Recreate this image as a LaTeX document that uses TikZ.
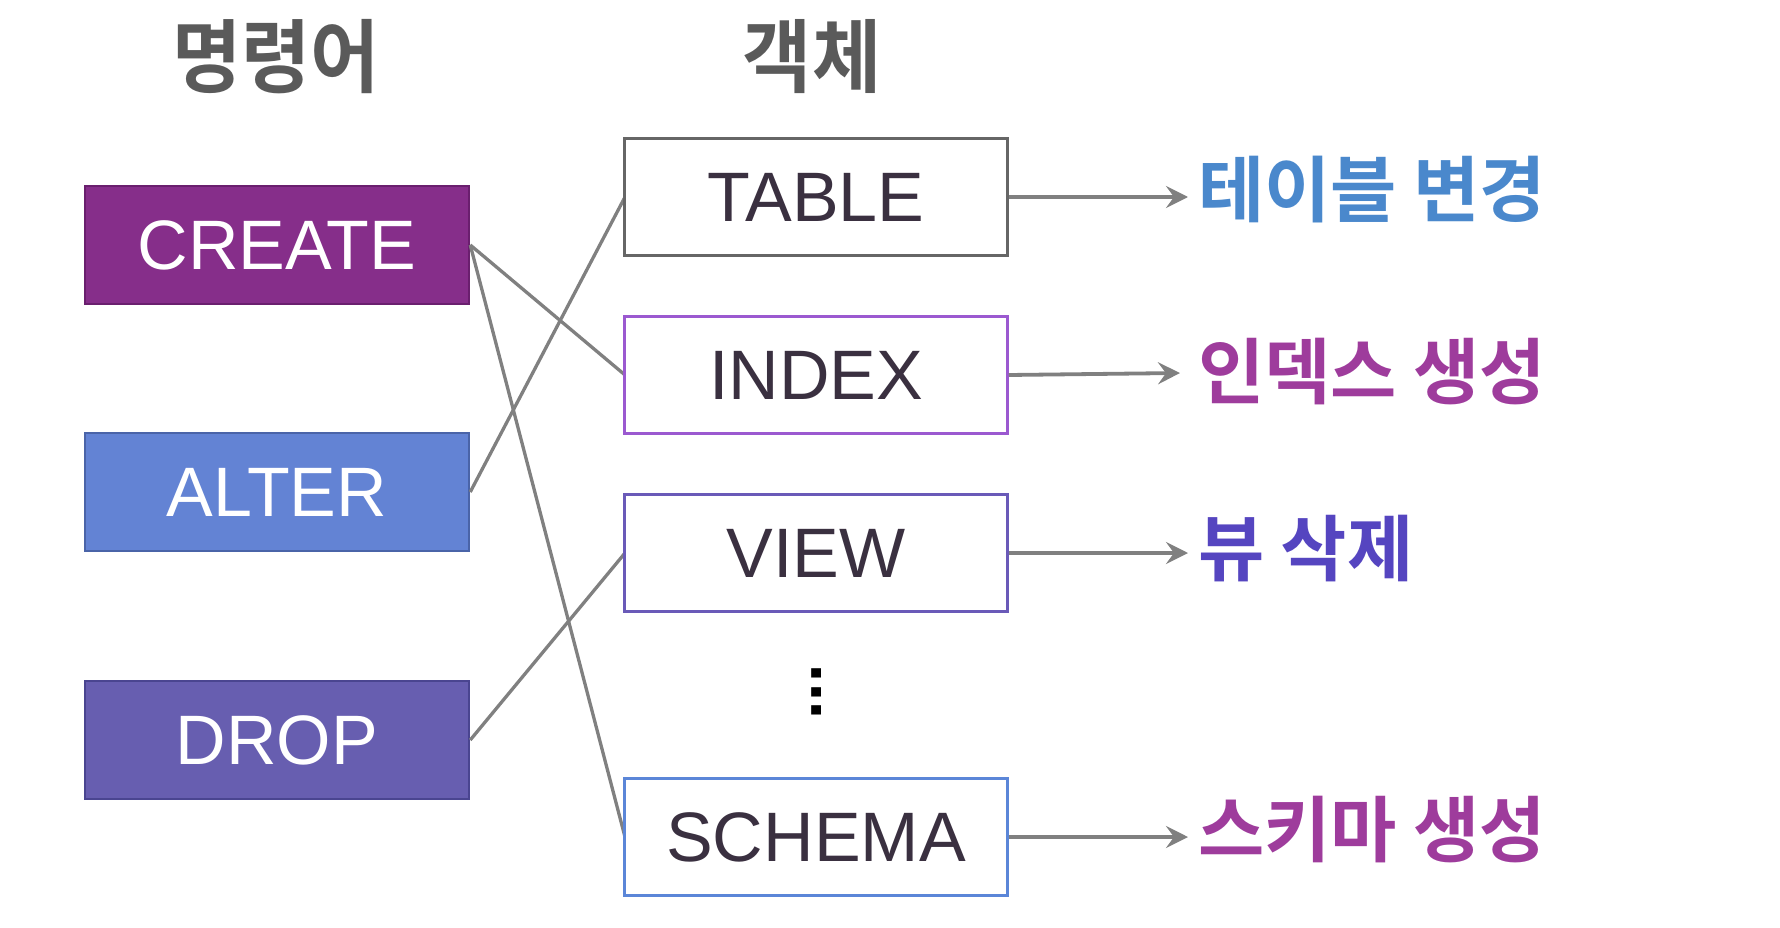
\documentclass[tikz,border=0pt]{standalone}
\usepackage{fontspec}
\setmainfont{Liberation Sans}
\newfontfamily\kr{Noto Sans CJK KR}[BoldFont={* Bold}]
\usetikzlibrary{arrows.meta}
\definecolor{cre}{HTML}{862E8A}
\definecolor{creb}{HTML}{6A1F6E}
\definecolor{alt}{HTML}{6383D4}
\definecolor{altb}{HTML}{4A64A8}
\definecolor{drp}{HTML}{675EB0}
\definecolor{drpb}{HTML}{4A4590}
\definecolor{tabb}{HTML}{666666}
\definecolor{idxb}{HTML}{9B59D0}
\definecolor{vieb}{HTML}{6A5AB8}
\definecolor{schb}{HTML}{5B86D8}
\definecolor{objtxt}{HTML}{3A3040}
\definecolor{hdr}{HTML}{5A5A5A}
\definecolor{lblue}{HTML}{4A88CC}
\definecolor{lpurp}{HTML}{9E3C9C}
\definecolor{lviol}{HTML}{5545C0}
\definecolor{conn}{HTML}{808080}
\tikzset{
  cmdbox/.style={draw, line width=2.5pt, minimum width=384pt, minimum height=118pt, inner sep=0pt, text=white, font=\fontsize{70}{80}\selectfont},
  objbox/.style={draw, fill=white, line width=2.5pt, minimum width=383pt, minimum height=117pt, inner sep=0pt, text=objtxt, font=\fontsize{70}{80}\selectfont},
  hdrtxt/.style={text=hdr, font=\kr\bfseries\fontsize{80}{88}\selectfont, xscale=0.94},
  restxt/.style={anchor=west, inner sep=0pt, font=\kr\bfseries\fontsize{72}{80}\selectfont},
  link/.style={draw=conn, line width=3.3pt},
  arr/.style={draw=conn, line width=3.8pt, -{Stealth[length=22pt, width=22pt, inset=8pt]}}
}
\begin{document}
\begin{tikzpicture}[x=1pt,y=-1pt]
\useasboundingbox (0,0) rectangle (1780,928);
\node[hdrtxt] (h1) at (276,57) {명령어};
\node[hdrtxt] (h2) at (812,57) {객체};

\node[cmdbox, fill=cre, draw=creb] (create) at (277,245) {CREATE};
\node[cmdbox, fill=alt, draw=altb] (alter) at (277,492) {ALTER};
\node[cmdbox, fill=drp, draw=drpb] (drop) at (277,740) {DROP};

\draw[link] (create.east) -- (625,375) coordinate (c1);
\draw[link] (create.east) -- (625,837) coordinate (c2);
\draw[link] (alter.east) -- (625,197) coordinate (c3);
\draw[link] (drop.east) -- (625,553) coordinate (c4);

\node[objbox, draw=tabb] (table) at (816,197) {TABLE};
\node[objbox, draw=idxb] (index) at (816,375) {INDEX};
\node[objbox, draw=vieb] (view) at (816,553) {VIEW};
\node[objbox, draw=schb] (schema) at (816,837) {SCHEMA};

\node[font=\fontsize{66}{66}\selectfont\bfseries, text=black] (dots) at (817,692) {\rotatebox{90}{...}};

\node[restxt, text=lblue] (r1) at (1198,190) {테이블 변경};
\node[restxt, text=lpurp] (r2) at (1198,372) {인덱스 생성};
\node[restxt, text=lviol] (r3) at (1198,549) {뷰 삭제};
\node[restxt, text=lpurp] (r4) at (1198,830) {스키마 생성};

\draw[arr] (table.east) -- (1188,197);
\draw[arr] (index.east) -- (1180,373);
\draw[arr] (view.east) -- (1188,553);
\draw[arr] (schema.east) -- (1188,837);
\end{tikzpicture}
\end{document}
